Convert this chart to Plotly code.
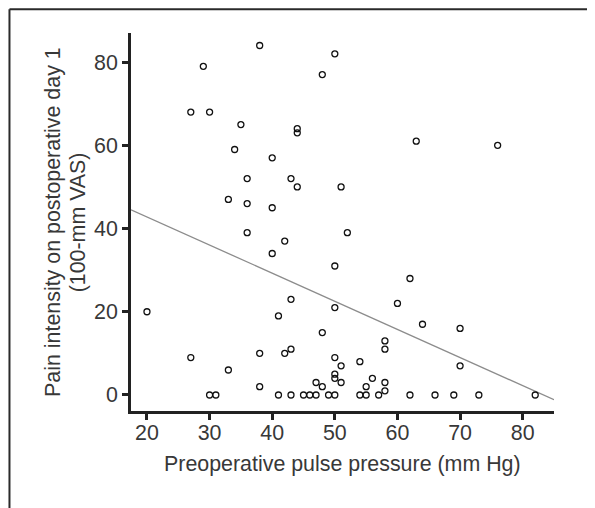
import numpy as np
import plotly.graph_objects as go

# Preoperative pulse pressure (mm Hg)
pulse_pressure = [20, 27, 27, 29, 30, 30, 31, 33, 33, 34, 35, 36, 36, 36, 38, 38, 38,
                  40, 40, 40, 41, 41, 42, 42, 43, 43, 43, 43, 44, 44, 44, 45, 46, 47, 47,
                  48, 48, 48, 49, 50, 50, 50, 50, 50, 50, 50, 51, 51, 51, 52, 54, 54,
                  55, 55, 56, 57, 58, 58, 58, 58, 60, 62, 62, 63, 64, 66, 69, 70, 70,
                  73, 76, 82]
# Pain intensity on postoperative day 1 (100-mm VAS)
pain_vas = [20, 68, 9, 79, 68, 0, 0, 47, 6, 59, 65, 52, 46, 39, 84, 10, 2,
            57, 45, 34, 19, 0, 37, 10, 52, 23, 11, 0, 64, 63, 50, 0, 0, 3, 0,
            77, 15, 2, 0, 82, 31, 21, 9, 5, 4, 0, 50, 7, 3, 39, 8, 0,
            2, 0, 4, 0, 13, 11, 3, 1, 22, 28, 0, 61, 17, 0, 0, 16, 7,
            0, 60, 0]

x_ticks = [20, 30, 40, 50, 60, 70, 80]
y_ticks = [0, 20, 40, 60, 80]
x_range = [17.45, 85.0]
y_range = [-3.85, 87.0]
x_title = "Preoperative pulse pressure (mm Hg)"
y_title_lines = ["Pain intensity on postoperative day 1", "(100-mm VAS)"]

slope, intercept = np.polyfit(pulse_pressure, pain_vas, 1)
fit_x = np.array(x_range)
fit_y = intercept + slope * fit_x

FONT = "Arial"
TXT = "#383838"
FS = 21.4

# page body has an 8px margin; figure sized to fit the 595x508 window
OFF = 8
W, H = 595 - OFF, 508 - OFF
L, R, T, B = 122.7, 40.7, 24.7, 97.3
pw, ph = W - L - R, H - T - B


def px_x(page_x):
    return (page_x - OFF - L) / pw


def px_y(page_y):
    return (H - B - (page_y - OFF)) / ph


fig = go.Figure()
fig.add_trace(go.Scatter(x=fit_x, y=fit_y, mode="lines",
                         line=dict(color="#8c8c8c", width=1.3),
                         hoverinfo="skip", showlegend=False))
fig.add_trace(go.Scatter(x=pulse_pressure, y=pain_vas, mode="markers",
                         marker=dict(symbol="circle-open", size=6,
                                     color="#111111", line=dict(width=1.3)),
                         showlegend=False))

annotations = [
    dict(text=x_title, xref="paper", yref="paper", x=px_x(342.3), y=px_y(463.5),
         xanchor="center", yanchor="middle", showarrow=False,
         font=dict(family=FONT, size=FS, color=TXT)),
    dict(text=y_title_lines[0], xref="paper", yref="paper", x=px_x(52.5), y=0.5,
         xanchor="center", yanchor="middle", showarrow=False, textangle=-90,
         font=dict(family=FONT, size=FS, color=TXT)),
    dict(text=y_title_lines[1], xref="paper", yref="paper", x=px_x(78), y=0.5,
         xanchor="center", yanchor="middle", showarrow=False, textangle=-90,
         font=dict(family=FONT, size=FS, color=TXT)),
]

fig.update_layout(
    width=W, height=H,
    margin=dict(l=L, r=R, t=T, b=B),
    paper_bgcolor="white", plot_bgcolor="white",
    font=dict(family=FONT, size=FS, color=TXT),
    xaxis=dict(range=x_range, tickvals=x_ticks, ticks="outside", ticklen=6,
               tickwidth=2.5, tickcolor="#222", showline=True, linecolor="#222",
               linewidth=2.8, showgrid=False, zeroline=False,
               ticklabelstandoff=-6,
               tickfont=dict(family=FONT, size=FS, color=TXT)),
    yaxis=dict(range=y_range, tickvals=y_ticks, ticks="outside", ticklen=6,
               tickwidth=2.5, tickcolor="#222", showline=True, linecolor="#222",
               linewidth=2.8, showgrid=False, zeroline=False,
               tickfont=dict(family=FONT, size=FS, color=TXT)),
    annotations=annotations,
    shapes=[
        dict(type="line", xref="paper", yref="paper", x0=px_x(9), x1=1.5,
             y0=px_y(9), y1=px_y(9), line=dict(color="#2a2a2a", width=2)),
        dict(type="line", xref="paper", yref="paper", x0=px_x(9), x1=px_x(9),
             y0=px_y(9), y1=-0.5, line=dict(color="#2a2a2a", width=2)),
    ],
)

fig.write_html("out.html")
